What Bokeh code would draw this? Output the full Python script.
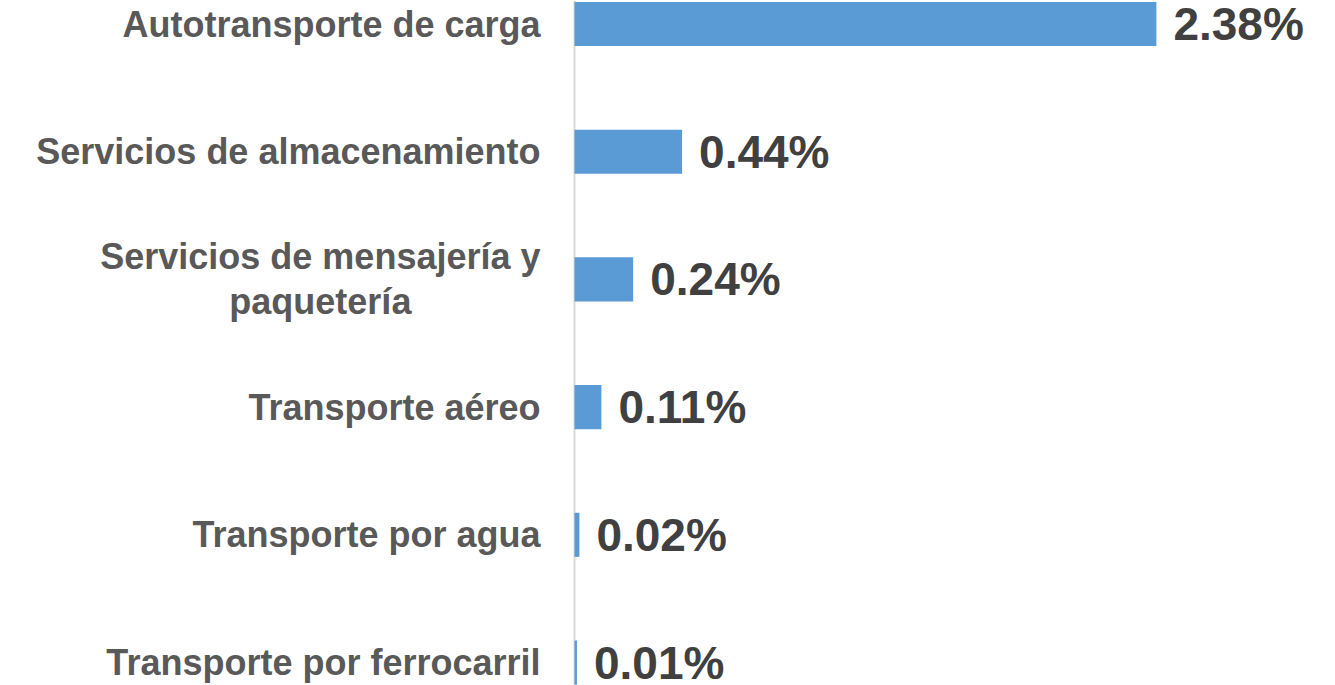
from bokeh.plotting import figure
from bokeh.models import ColumnDataSource, Range1d, Span
from bokeh.core.properties import value
from bokeh.embed import file_html
from bokeh.resources import INLINE

# ---- data ----
categories = [
    "Autotransporte de carga",
    "Servicios de almacenamiento",
    "Servicios de mensajería y\npaquetería",
    "Transporte aéreo",
    "Transporte por agua",
    "Transporte por ferrocarril",
]
shares = [2.38, 0.44, 0.24, 0.11, 0.02, 0.01]
value_labels = [f"{v:.2f}%" for v in shares]

# ---- layout ----
W, H = 1335, 685
x0_px = 574.0          # pixel position of zero
px_per_unit = 244.5    # pixels per 1 %
row_px = 127.7         # pixels per category row
first_center_px = 23.5

pos = list(range(len(categories)))
y_bottom = (H - first_center_px) / row_px
y_top = -first_center_px / row_px

p = figure(width=W, height=H, output_backend="svg", toolbar_location=None,
           x_range=Range1d(-x0_px / px_per_unit, (W - x0_px) / px_per_unit),
           y_range=Range1d(y_bottom, y_top),
           min_border=0, min_border_left=0, min_border_right=0,
           min_border_top=0, min_border_bottom=0)
p.xaxis.visible = False
p.yaxis.visible = False
p.xgrid.visible = False
p.ygrid.visible = False
p.outline_line_color = None
p.background_fill_color = "white"
p.border_fill_color = "white"

font = value("Liberation Sans")
cat_size = 36

# label offsets: single line right-aligned, multi-line centered under its first line
aligns, offsets = [], []
for c in categories:
    if "\n" in c:
        aligns.append("center")
        offsets.append(-34 - 0.5 * 12.229 * cat_size)
    else:
        aligns.append("right")
        offsets.append(-34)

src = ColumnDataSource(dict(y=pos, v=shares, cat=categories, lab=value_labels,
                            zero=[0] * len(pos), align=aligns, xoff=offsets))

axis_line = Span(location=0, dimension="height", line_color="#D9D9D9",
                 line_width=2, level="underlay")
p.add_layout(axis_line)

p.hbar(y="y", left=0, right="v", height=0.345, source=src,
       fill_color="#5B9BD5", line_color=None)

p.text(x="v", y="y", text="lab", source=src, x_offset=17,
       text_font=font, text_font_style="bold", text_font_size="46px",
       text_color="#404040", text_align="left", text_baseline="middle")

p.text(x="zero", y="y", text="cat", source=src, x_offset="xoff",
       text_font=font, text_font_style="bold", text_font_size=f"{cat_size}px",
       text_color="#595959", text_align="align", text_baseline="middle",
       text_line_height=1.1)

open("out.html", "w").write(file_html(p, INLINE))
